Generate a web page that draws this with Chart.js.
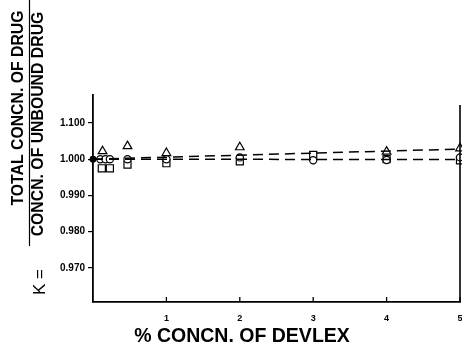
<!DOCTYPE html>
<html>
<head>
<meta charset="utf-8">
<script src="https://cdn.jsdelivr.net/npm/chart.js@4/dist/chart.umd.min.js"></script>
<style>
  html, body { margin: 0; padding: 0; background: #fff; }
  #wrap { width: 462px; height: 349px; position: relative; }
</style>
</head>
<body>
<div id="wrap"><canvas id="c" width="462" height="349"></canvas></div>
<script>
// ---- data ----
const xTickValues = [1, 2, 3, 4, 5];
const xTickLabels = ["1", "2", "3", "4", "5"];
const yTickValues = [0.970, 0.980, 0.990, 1.000, 1.010];
const yTickLabels = ["0.970", "0.980", "0.990", "1.000", "1.100"];

const filledX = [0];
const filledY = [1.000];

const circleX = [0.10, 0.17, 0.23, 0.47, 1, 2, 3, 4, 5];
const circleY = [1.000, 1.000, 1.000, 1.000, 1.000, 1.0005, 0.9997, 0.9998, 1.0005];

const triangleX = [0.13, 0.47, 1, 2, 4, 5];
const triangleY = [1.0022, 1.0036, 1.0017, 1.0033, 1.0021, 1.0030];

const squareX = [0.12, 0.23, 0.47, 1, 2, 3, 4, 5];
const squareY = [0.9975, 0.9975, 0.9985, 0.9989, 0.9994, 1.0012, 1.0000, 0.9997];

const lineX = [0, 5];
const upperLineY = [1.000, 1.0028];
const lowerLineY = [1.000, 0.9999];

const yTitleTop = "TOTAL CONCN. OF DRUG";
const yTitleBottom = "CONCN. OF UNBOUND DRUG";
const yTitlePrefix = "K =";
const xTitle = "% CONCN. OF DEVLEX";

// ---- build ----
const pts = (xs, ys) => xs.map((x, i) => ({x: x, y: ys[i]}));

const annotatePlugin = {
  id: 'annot',
  afterDraw(chart) {
    const ctx = chart.ctx;
    const xs = chart.scales.x;
    const area = chart.chartArea;
    ctx.save();
    ctx.strokeStyle = '#000';
    ctx.fillStyle = '#000';
    // inward x ticks
    ctx.lineWidth = 1.3;
    xTickValues.forEach(v => {
      const px = xs.getPixelForValue(v);
      ctx.beginPath();
      ctx.moveTo(px, area.bottom);
      ctx.lineTo(px, area.bottom - 5);
      ctx.stroke();
    });
    // right frame line
    ctx.lineWidth = 1.6;
    ctx.beginPath();
    ctx.moveTo(area.right, area.top + 10);
    ctx.lineTo(area.right, area.bottom);
    ctx.stroke();

    // y title (rotated fraction)
    ctx.font = 'bold 15.8px "Liberation Sans", Arial, sans-serif';
    ctx.textAlign = 'center';
    ctx.textBaseline = 'middle';
    ctx.save();
    ctx.translate(19, 108);
    ctx.rotate(-Math.PI / 2);
    ctx.fillText(yTitleTop, 0, 0);
    ctx.restore();
    ctx.save();
    ctx.translate(39, 124);
    ctx.rotate(-Math.PI / 2);
    ctx.fillText(yTitleBottom, 0, 0);
    ctx.restore();
    // fraction bar
    ctx.lineWidth = 1.2;
    ctx.beginPath();
    ctx.moveTo(29.5, 0);
    ctx.lineTo(29.5, 246);
    ctx.stroke();
    // K =
    ctx.save();
    ctx.translate(40, 282);
    ctx.rotate(-Math.PI / 2);
    ctx.font = '17px "Liberation Sans", Arial, sans-serif';
    ctx.fillText(yTitlePrefix, 0, 0);
    ctx.restore();

    // x title
    ctx.font = 'bold 19.5px "Liberation Sans", Arial, sans-serif';
    ctx.textAlign = 'center';
    ctx.textBaseline = 'alphabetic';
    ctx.fillText(xTitle, 242, 342);
    ctx.restore();
  }
};

const markerCommon = {
  showLine: false,
  borderColor: '#000',
  borderWidth: 1.2,
  backgroundColor: 'rgba(255,255,255,0)'
};

new Chart(document.getElementById('c'), {
  type: 'scatter',
  data: {
    datasets: [
      {
        data: pts(lineX, upperLineY), showLine: true, borderColor: '#000',
        borderWidth: 1.5, borderDash: [10, 6], pointRadius: 0, fill: false
      },
      {
        data: pts(lineX, lowerLineY), showLine: true, borderColor: '#000',
        borderWidth: 1.5, borderDash: [10, 6], pointRadius: 0, fill: false
      },
      Object.assign({}, markerCommon, {data: pts(circleX, circleY), pointStyle: 'circle', pointRadius: 3.6, backgroundColor: '#fff'}),
      Object.assign({}, markerCommon, {data: pts(triangleX, triangleY), pointStyle: 'triangle', pointRadius: 5}),
      Object.assign({}, markerCommon, {data: pts(squareX, squareY), pointStyle: 'rect', pointRadius: 5}),
      Object.assign({}, markerCommon, {data: pts(filledX, filledY), pointStyle: 'circle', pointRadius: 2.8, backgroundColor: '#000'})
    ]
  },
  options: {
    responsive: false,
    animation: false,
    events: [],
    clip: false,
    layout: { autoPadding: false, padding: { left: 0, right: 2, top: 95, bottom: 0 } },
    plugins: { legend: { display: false }, tooltip: { enabled: false } },
    scales: {
      x: {
        type: 'linear',
        min: 0,
        max: 5,
        afterBuildTicks(scale) { scale.ticks = xTickValues.map(v => ({value: v})); },
        afterFit(scale) { scale.height = 47; scale.paddingRight = 0; scale.paddingLeft = 0; },
        grid: { display: false, drawTicks: false },
        border: { display: true, color: '#000', width: 1.8 },
        ticks: {
          padding: 11,
          color: '#000',
          font: { family: '"Liberation Sans", Arial, sans-serif', size: 9, weight: 'bold' },
          maxRotation: 0,
          autoSkip: false,
          callback: (v) => { const i = xTickValues.indexOf(v); return i >= 0 ? xTickLabels[i] : ''; }
        }
      },
      y: {
        type: 'linear',
        min: 0.96063,
        max: 1.0177,
        afterBuildTicks(scale) { scale.ticks = yTickValues.map(v => ({value: v})); },
        afterFit(scale) { scale.width = 93; scale.paddingTop = 0; scale.paddingBottom = 0; },
        grid: { display: true, drawOnChartArea: false, drawTicks: true, tickLength: 5, color: '#000', lineWidth: 1.2 },
        border: { display: true, color: '#000', width: 1.8 },
        ticks: {
          padding: 3,
          color: '#000',
          font: { family: '"Liberation Sans", Arial, sans-serif', size: 10, weight: 'bold' },
          autoSkip: false,
          callback: (v) => { const i = yTickValues.indexOf(v); return i >= 0 ? yTickLabels[i] : ''; }
        }
      }
    }
  },
  plugins: [annotatePlugin]
});
</script>
</body>
</html>
